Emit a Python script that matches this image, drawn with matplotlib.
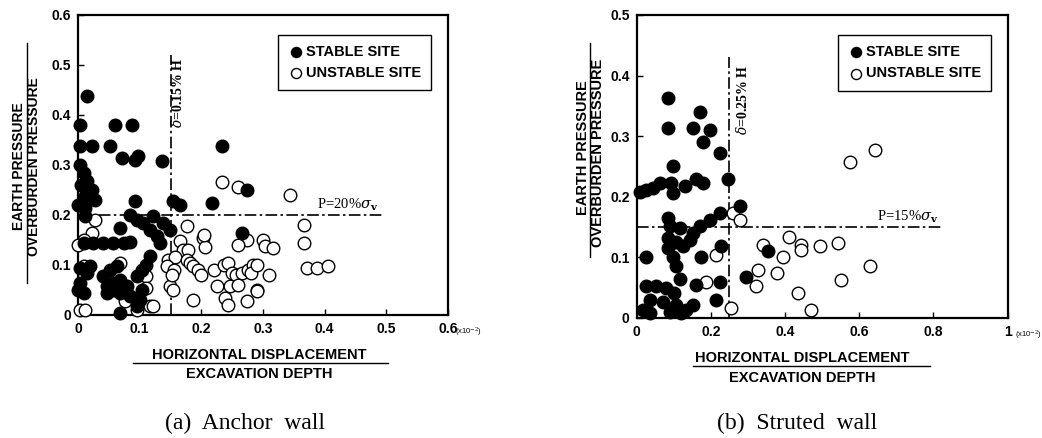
import matplotlib
matplotlib.use("Agg")
import matplotlib.pyplot as plt

plt.rcParams['font.family'] = ['Liberation Sans Narrow', 'Liberation Sans', 'DejaVu Sans']
plt.rcParams['mathtext.fontset'] = 'dejavuserif'

# (a) anchor wall
a_stable_x = [0.014, 0.003, 0.003, 0.022, 0.052, 0.06, 0.087, 0.071, 0.093, 0.098, 0.136, 0.233, 0.274,
              0.003, 0.009, 0.014, 0.022, 0.028, 0.011, 0.011, 0.011, 0.0, 0.005,
              0.093, 0.154, 0.166, 0.217,
              0.084, 0.095, 0.106, 0.117, 0.128, 0.133, 0.122, 0.138, 0.149, 0.068,
              0.009, 0.025, 0.041, 0.057, 0.074, 0.084,
              0.117, 0.111, 0.103, 0.095, 0.103, 0.1, 0.095,
              0.019, 0.014, 0.003, 0.009, 0.0, 0.003,
              0.041, 0.052, 0.063, 0.047, 0.057, 0.068, 0.079, 0.068, 0.047, 0.084, 0.057,
              0.068, 0.266]
a_stable_y = [0.437, 0.38, 0.337, 0.337, 0.337, 0.38, 0.38, 0.313, 0.31, 0.317, 0.307, 0.337, 0.25,
              0.3, 0.283, 0.267, 0.25, 0.23, 0.237, 0.214, 0.197, 0.22, 0.26,
              0.227, 0.227, 0.22, 0.224,
              0.2, 0.19, 0.184, 0.17, 0.157, 0.144, 0.197, 0.184, 0.17, 0.174,
              0.143, 0.143, 0.143, 0.143, 0.143, 0.146,
              0.117, 0.1, 0.09, 0.077, 0.05, 0.03, 0.017,
              0.097, 0.084, 0.064, 0.043, 0.05, 0.094,
              0.077, 0.09, 0.097, 0.057, 0.063, 0.07, 0.057, 0.043, 0.043, 0.037, 0.05,
              0.003, 0.164]
a_unstable_x = [0.003, 0.011, 0.028, 0.022, 0.009, 0.0, 0.068, 0.009, 0.111, 0.111, 0.076, 0.095, 0.117,
                0.149, 0.122, 0.233, 0.26, 0.344, 0.176, 0.203, 0.206, 0.274, 0.26, 0.3, 0.304, 0.317,
                0.166, 0.17, 0.178, 0.146, 0.157, 0.144, 0.155, 0.152, 0.176, 0.182, 0.187, 0.195,
                0.2, 0.22, 0.236, 0.243, 0.25, 0.257, 0.266, 0.276, 0.284, 0.28, 0.31, 0.225, 0.247,
                0.26, 0.29, 0.187, 0.239, 0.243, 0.274, 0.154, 0.366, 0.366, 0.371, 0.387, 0.406,
                0.29, 0.29, 0.205]
a_unstable_y = [0.01, 0.01, 0.19, 0.163, 0.15, 0.14, 0.104, 0.097, 0.077, 0.053, 0.027, 0.01, 0.017,
                0.057, 0.017, 0.265, 0.256, 0.24, 0.177, 0.154, 0.136, 0.15, 0.14, 0.15, 0.137, 0.134,
                0.147, 0.13, 0.13, 0.11, 0.116, 0.097, 0.09, 0.08, 0.11, 0.104, 0.097, 0.09,
                0.08, 0.09, 0.1, 0.104, 0.084, 0.08, 0.084, 0.09, 0.1, 0.084, 0.08, 0.057, 0.057,
                0.06, 0.05, 0.03, 0.034, 0.02, 0.027, 0.05, 0.18, 0.143, 0.094, 0.094, 0.097,
                0.1, 0.047, 0.16]

# (b) struted wall
b_stable_x = [0.084, 0.084, 0.17, 0.152, 0.197, 0.179, 0.224, 0.098, 0.246, 0.161, 0.179, 0.093, 0.098,
              0.129, 0.008, 0.026, 0.044, 0.062, 0.278, 0.224, 0.197, 0.17, 0.084, 0.089, 0.116,
              0.152, 0.143, 0.125, 0.084, 0.107, 0.084, 0.098, 0.107, 0.116, 0.026, 0.174, 0.228,
              0.161, 0.224, 0.215, 0.296, 0.355, 0.026, 0.053, 0.08, 0.102, 0.035, 0.017, 0.035,
              0.071, 0.107, 0.12, 0.134, 0.152, 0.089]
b_stable_y = [0.363, 0.313, 0.34, 0.313, 0.31, 0.291, 0.272, 0.25, 0.23, 0.23, 0.222, 0.222, 0.206,
              0.217, 0.208, 0.211, 0.214, 0.222, 0.184, 0.173, 0.162, 0.151, 0.165, 0.151, 0.148,
              0.14, 0.129, 0.118, 0.132, 0.126, 0.115, 0.101, 0.085, 0.065, 0.1, 0.101, 0.118,
              0.054, 0.06, 0.03, 0.068, 0.11, 0.052, 0.052, 0.049, 0.041, 0.03, 0.013, 0.008,
              0.027, 0.021, 0.008, 0.013, 0.021, 0.01]
b_unstable_x = [0.26, 0.278, 0.215, 0.188, 0.255, 0.34, 0.327, 0.323, 0.377, 0.395, 0.412, 0.444, 0.444,
                0.493, 0.543, 0.628, 0.552, 0.435, 0.471, 0.642, 0.574]
b_unstable_y = [0.173, 0.162, 0.104, 0.06, 0.016, 0.12, 0.079, 0.052, 0.074, 0.101, 0.134, 0.12, 0.112,
                0.118, 0.123, 0.085, 0.063, 0.041, 0.013, 0.277, 0.258]

a_xticks = [0, 0.1, 0.2, 0.3, 0.4, 0.5, 0.6]
a_xlabels = ["0", "0.1", "0.2", "0.3", "0.4", "0.5", "0.6"]
a_yticks = [0, 0.1, 0.2, 0.3, 0.4, 0.5, 0.6]
a_ylabels = ["0", "0.1", "0.2", "0.3", "0.4", "0.5", "0.6"]
b_xticks = [0, 0.2, 0.4, 0.6, 0.8, 1.0]
b_xlabels = ["0", "0.2", "0.4", "0.6", "0.8", "1"]
b_yticks = [0, 0.1, 0.2, 0.3, 0.4, 0.5]
b_ylabels = ["0", "0.1", "0.2", "0.3", "0.4", "0.5"]

DASHDOT = (0, (7, 2, 1.5, 2))
MS = 82

fig = plt.figure(figsize=(10.42, 4.38), dpi=100)
ax1 = fig.add_axes([0.0749, 0.281, 0.355, 0.685])
ax2 = fig.add_axes([0.611, 0.274, 0.356, 0.692])


def setup(ax, xt, xl, yt, yl, xmax, ymax, xc, line_x):
    ax.set_xlim(0, xmax)
    ax.set_ylim(0, ymax)
    ax.set_xticks(xt)
    ax.set_xticklabels(xl, fontsize=10, fontweight='bold')
    ax.set_yticks(yt)
    ax.set_yticklabels(yl, fontsize=10, fontweight='bold')
    ax.tick_params(direction='in', length=4, width=1, pad=5)
    for s in ax.spines.values():
        s.set_linewidth(1.6)
    ax.text(xmax * 1.02, -0.058 * ymax, r"(x10$^{-2}$)", fontsize=5.5, ha='left', va='center',
            transform=ax.transData, clip_on=False)
    # fraction label under the x axis
    ax.text(xc, -0.133, "HORIZONTAL DISPLACEMENT", transform=ax.transAxes,
            ha='center', va='center', fontsize=10.5, fontweight='bold')
    ax.plot(line_x, [-0.16, -0.16], transform=ax.transAxes, color='black', lw=1, clip_on=False)
    ax.text(xc, -0.197, "EXCAVATION DEPTH", transform=ax.transAxes,
            ha='center', va='center', fontsize=10.5, fontweight='bold')


setup(ax1, a_xticks, a_xlabels, a_yticks, a_ylabels, 0.6, 0.6, 0.49, [0.149, 0.837])
setup(ax2, b_xticks, b_xlabels, b_yticks, b_ylabels, 1.0, 0.5, 0.447, [0.151, 0.79])

# fraction label beside the y axis
ax1.text(-0.1405, 0.497, "EARTH PRESSURE", transform=ax1.transAxes, rotation=90, ha='right', va='center',
         fontsize=10, fontweight='bold')
ax1.text(-0.1378, 0.493, "OVERBURDEN PRESSURE", transform=ax1.transAxes, rotation=90, ha='left', va='center',
         fontsize=10, fontweight='bold')
ax1.plot([-0.139, -0.139], [0.107, 0.907], transform=ax1.transAxes, color='black', lw=1, clip_on=False)

ax2.text(-0.1267, 0.563, "EARTH PRESSURE", transform=ax2.transAxes, rotation=90, ha='right', va='center',
         fontsize=10.5, fontweight='bold')
ax2.text(-0.124, 0.546, "OVERBURDEN PRESSURE", transform=ax2.transAxes, rotation=90, ha='left', va='center',
         fontsize=10.5, fontweight='bold')
ax2.plot([-0.1253, -0.1253], [0.2, 0.908], transform=ax2.transAxes, color='black', lw=1, clip_on=False)

# points
ax1.scatter(a_unstable_x, a_unstable_y, s=MS, facecolors='white', edgecolors='black', linewidths=1,
            clip_on=False, zorder=3, label="UNSTABLE SITE")
ax1.scatter(a_stable_x, a_stable_y, s=MS, color='black', clip_on=False, zorder=4, label="STABLE SITE")
ax2.scatter(b_unstable_x, b_unstable_y, s=MS, facecolors='white', edgecolors='black', linewidths=1,
            clip_on=False, zorder=3, label="UNSTABLE SITE")
ax2.scatter(b_stable_x, b_stable_y, s=MS, color='black', clip_on=False, zorder=4, label="STABLE SITE")

# limit lines
ax1.plot([0.15, 0.15], [0, 0.52], color='black', lw=1.2, ls=DASHDOT, zorder=2)
ax1.plot([0, 0.495], [0.2, 0.2], color='black', lw=1.2, ls=DASHDOT, zorder=2)
ax1.text(0.162, 0.445, r"$\delta$=0.15% H", rotation=90, ha='center', va='center', fontsize=10,
         family='Liberation Serif', fontweight='bold')
ax1.text(0.437, 0.203, r"P=20%$\sigma_\mathbf{v}$", ha='center', va='bottom', fontsize=10.5,
         family='Liberation Serif')

ax2.plot([0.25, 0.25], [0, 0.43], color='black', lw=1.2, ls=DASHDOT, zorder=2)
ax2.plot([0, 0.825], [0.15, 0.15], color='black', lw=1.2, ls=DASHDOT, zorder=2)
ax2.text(0.285, 0.36, r"$\delta$=0.25% H", rotation=90, ha='center', va='center', fontsize=10,
         family='Liberation Serif', fontweight='bold')
ax2.text(0.73, 0.154, r"P=15%$\sigma_\mathbf{v}$", ha='center', va='bottom', fontsize=10.5,
         family='Liberation Serif')

for ax in (ax1, ax2):
    h, l = ax.get_legend_handles_labels()
    leg = ax.legend(h[::-1], l[::-1], loc='upper right', bbox_to_anchor=(0.975, 0.958), fancybox=False,
                    edgecolor='black', framealpha=1, handletextpad=0.2, borderpad=0.7, labelspacing=0.5,
                    handlelength=1.0, markerscale=0.8, prop={'size': 10.5, 'weight': 'bold'})
    leg.get_frame().set_linewidth(1.0)

fig.text(0.235, 0.033, "(a)  Anchor  wall", ha='center', va='center', fontsize=17, family='Liberation Serif')
fig.text(0.765, 0.033, "(b)  Struted  wall", ha='center', va='center', fontsize=17, family='Liberation Serif')

fig.savefig("out.png", dpi=100)
